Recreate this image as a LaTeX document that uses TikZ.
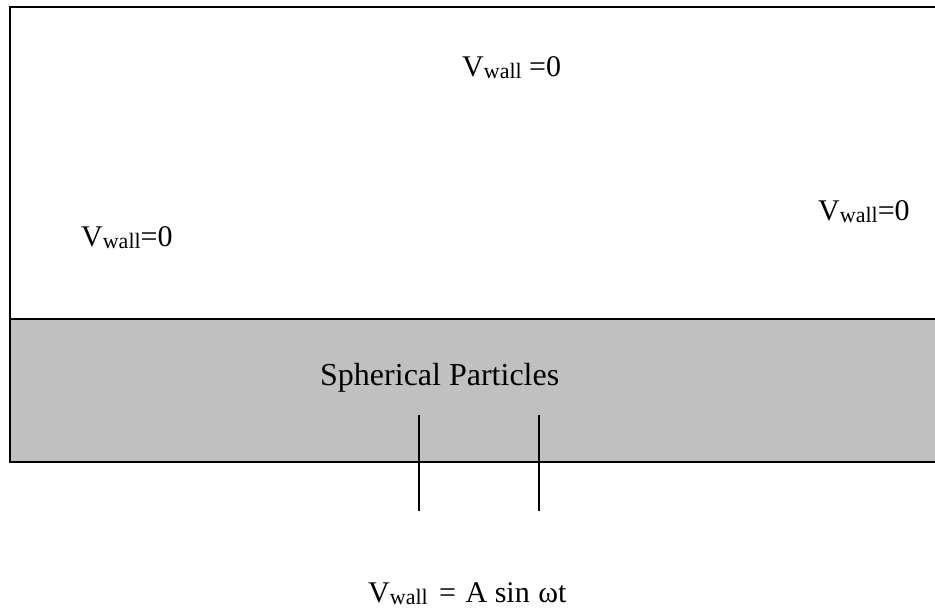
\documentclass[tikz,border=0pt]{standalone}
\usepackage{fontspec}
\setmainfont{Liberation Serif}
\newcommand{\vw}{V\raisebox{-0.08em}{\fontsize{22}{22}\selectfont wall}}
\begin{document}
\begin{tikzpicture}[x=1pt,y=-1pt,
  wall/.style={line width=2.3pt,line cap=rect},
  lbl/.style={anchor=base west,inner sep=0pt,font=\fontsize{30}{30}\selectfont},
  probe/.style={line width=2.3pt}]
\useasboundingbox (0,0) rectangle (935,611);
\fill[fill={rgb,255:red,192;green,192;blue,192}] (10,319) rectangle (936,462);
\coordinate (tl) at (10,7);
\coordinate (tr) at (936,7);
\coordinate (bl) at (10,462);
\coordinate (br) at (936,462);
\coordinate (ml) at (10,319);
\coordinate (mr) at (936,319);
\draw[wall] (tr) -- (tl) -- (bl) -- (br);
\draw[wall] (ml) -- (mr);
\coordinate (p1t) at (419,415);
\coordinate (p1b) at (419,511);
\coordinate (p2t) at (539,415);
\coordinate (p2b) at (539,511);
\draw[probe] (p1t) -- (p1b);
\draw[probe] (p2t) -- (p2b);
\node[lbl] (top) at (462,76) {\vw\ =0};
\node[lbl] (left) at (81,246) {\vw=0};
\node[lbl] (right) at (818,220) {\vw=0};
\node[lbl,font=\fontsize{32}{32}\selectfont] (sp) at (320,385) {Spherical Particles};
\node[lbl] (bot) at (368,602) {\vw\hspace{4pt} =\hspace{2pt} A sin\hspace{1pt} ωt};
\end{tikzpicture}
\end{document}
